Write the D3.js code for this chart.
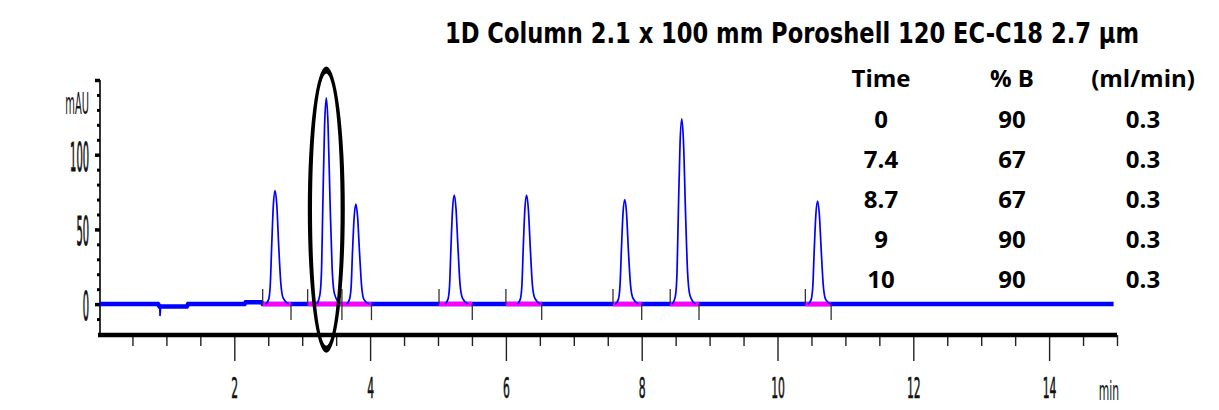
<!DOCTYPE html>
<html>
<head>
<meta charset="utf-8">
<script src="https://cdn.jsdelivr.net/npm/d3@7"></script>
<style>
  body { margin: 0; background: #fff; }
  svg { display: block; }
  .narrow { font-family: "Liberation Sans Narrow", "DejaVu Sans Condensed", "Liberation Sans", sans-serif; }
  .table { font-family: "Open Sans", "Lato", sans-serif; font-weight: 700; font-size: 24px; fill: #000; }
</style>
</head>
<body>
<div id="chart"></div>
<script>
// gradient table
const gradTime = ["0", "7.4", "8.7", "9", "10"];
const gradB = ["90", "67", "67", "90", "90"];
const gradFlow = ["0.3", "0.3", "0.3", "0.3", "0.3"];
const tableHead = ["Time", "% B", "(ml/min)"];

// axis labels
const xTickLabels = [2, 4, 6, 8, 10, 12, 14];
const yTickLabels = [0, 50, 100];

// baseline of the trace [min, mAU]
const baseline = [[0.02, 0], [0.876, 0], [0.9, -1.6], [1.3, -1.6], [1.32, 0], [2.15, 0], [2.17, 1.3],
  [2.4, 1.3], [2.42, 0], [14.95, 0]];
const dip = [[0.885, 0], [0.9, -1], [0.906, -8], [0.915, -2.5], [0.93, -1.6]];

// peaks [min, mAU]
const peak1 = [[2.46,0],[2.505,3],[2.53,13],[2.55,38],[2.575,66],[2.60,76],[2.625,67],[2.655,38],[2.685,14],[2.72,4],[2.80,0]];
const peak2 = [[3.215,0],[3.26,6],[3.285,23],[3.305,69],[3.33,120],[3.355,138],[3.38,121],[3.41,69],[3.44,25],[3.475,7],[3.555,0]];
const peak3 = [[3.65,0],[3.695,3],[3.72,11],[3.74,34],[3.765,58],[3.79,67],[3.815,59],[3.845,34],[3.875,12],[3.91,3],[3.99,0]];
const peak4 = [[5.10,0],[5.145,3],[5.17,12],[5.19,37],[5.215,64],[5.24,73],[5.265,64],[5.295,37],[5.325,13],[5.36,4],[5.44,0]];
const peak5 = [[6.165,0],[6.21,3],[6.235,12],[6.255,37],[6.28,64],[6.305,73],[6.33,64],[6.36,37],[6.39,13],[6.425,4],[6.505,0]];
const peak6 = [[7.61,0],[7.655,3],[7.68,12],[7.70,35],[7.725,61],[7.75,70],[7.775,62],[7.805,35],[7.835,13],[7.87,4],[7.95,0]];
const peak7 = [[8.45,0],[8.495,5],[8.52,21],[8.54,62],[8.565,108],[8.59,124],[8.615,109],[8.645,62],[8.675,22],[8.71,6],[8.79,0]];
const peak8 = [[10.45,0],[10.495,3],[10.52,12],[10.54,35],[10.565,60],[10.59,69],[10.615,61],[10.645,35],[10.675,12],[10.71,3],[10.79,0]];

// integration start / end (min)
const intStart = [2.418, 3.08, 3.585, 5.015, 6.0, 7.577, 8.42, 10.41];
const intEnd = [2.835, 3.585, 4.02, 5.505, 6.527, 8.0, 8.844, 10.79];

// highlighted peak (min, mAU range)
const markTime = 3.355;
const markTop = 159;
const markBottom = -32.5;

var w = 1219;
var h = 410;

var svg = d3.select("#chart").append("svg")
  .attr("width", w)
  .attr("height", h);

var x = d3.scaleLinear().domain([0, 15]).range([98.5, 1117]);
var y = d3.scaleLinear().domain([-20, 150]).range([334, 80]);

///////////////////////////// Axes

// x axis: minor ticks every 0.5, major every 2
var xAxisG = svg.append("g").attr("transform", "translate(0,335)");

var minorX = d3.range(0.5, 15.01, 0.5).filter(d => d % 2 !== 0 || d === 0);
xAxisG.append("g")
  .call(d3.axisBottom(x).tickValues(minorX).tickSize(11).tickSizeOuter(0).tickFormat(""))
  .call(g => g.select(".domain").remove())
  .call(g => g.selectAll("line").attr("stroke", "#222").attr("stroke-width", 1.4));

xAxisG.append("g")
  .call(d3.axisBottom(x).tickValues(xTickLabels).tickSize(26).tickSizeOuter(0))
  .call(g => g.select(".domain").remove())
  .call(g => g.selectAll("line").attr("stroke", "#222").attr("stroke-width", 1.4))
  .call(g => g.selectAll("text")
    .attr("class", "narrow")
    .attr("y", 0).attr("dy", 0)
    .attr("font-size", 12)
    .attr("fill", "#111")
    .attr("stroke", "#111").attr("stroke-width", 0.25)
    .attr("transform", "translate(0,63) scale(1,2.4)"));

xAxisG.append("line")
  .attr("x1", 98).attr("x2", x(15))
  .attr("stroke", "#000").attr("stroke-width", 4.5);

svg.append("text")
  .attr("class", "narrow")
  .attr("font-size", 12)
  .attr("fill", "#111")
  .attr("text-anchor", "middle")
  .attr("transform", "translate(" + (x(15) - 8) + ",400) scale(1,2.2)")
  .text("min");

// y axis
var yAxisG = svg.append("g").attr("transform", "translate(100,0)");

var minorY = d3.range(-10, 150, 10).filter(d => d % 50 !== 0);
yAxisG.append("g")
  .call(d3.axisLeft(y).tickValues(minorY).tickSize(3).tickSizeOuter(0).tickFormat(""))
  .call(g => g.select(".domain").remove())
  .call(g => g.selectAll("line").attr("stroke", "#000").attr("stroke-width", 3));

yAxisG.append("g")
  .call(d3.axisLeft(y).tickValues([0, 50, 100, 150]).tickSize(5).tickSizeOuter(0)
    .tickFormat(d => yTickLabels.includes(d) ? d : ""))
  .call(g => g.select(".domain").remove())
  .call(g => g.selectAll("line").attr("stroke", "#000").attr("stroke-width", 3.5))
  .call(g => g.selectAll("text")
    .attr("class", "narrow")
    .attr("x", 0).attr("dy", "0.4em")
    .attr("font-size", 11)
    .attr("fill", "#111")
    .attr("stroke", "#111").attr("stroke-width", 0.25)
    .attr("transform", "translate(-11,0) scale(1,3.5)"));

yAxisG.append("line")
  .attr("y1", y(150)).attr("y2", y(-20) + 1)
  .attr("stroke", "#000").attr("stroke-width", 1.6);

svg.append("text")
  .attr("class", "narrow")
  .attr("font-size", 11)
  .attr("fill", "#111")
  .attr("text-anchor", "end")
  .attr("transform", "translate(89," + y(135) + ") scale(1,2.8)")
  .attr("dy", "0.36em")
  .text("mAU");

///////////////////////////// Trace

var line = d3.line()
  .x(d => x(d[0]))
  .y(d => y(d[1]));

svg.append("path")
  .datum(baseline)
  .attr("fill", "none")
  .attr("stroke", "#0000ff")
  .attr("stroke-width", 4.5)
  .attr("d", line);

svg.append("path")
  .datum(dip)
  .attr("fill", "none")
  .attr("stroke", "#0000ff")
  .attr("stroke-width", 1.6)
  .attr("d", line);

// integration baselines
svg.selectAll(".intbar")
  .data(intStart)
  .enter().append("line")
  .attr("class", "intbar")
  .attr("x1", d => x(d))
  .attr("x2", (d, i) => x(intEnd[i]))
  .attr("y1", y(0)).attr("y2", y(0))
  .attr("stroke", "#ff00ff")
  .attr("stroke-width", 4.5);

var peakLine = d3.line()
  .curve(d3.curveMonotoneX)
  .x(d => x(d[0]))
  .y(d => y(d[1]));

[peak1, peak2, peak3, peak4, peak5, peak6, peak7, peak8].forEach(function (p) {
  svg.append("path")
    .datum(p)
    .attr("fill", "none")
    .attr("stroke", "#0000ff")
    .attr("stroke-width", 1.7)
    .attr("stroke-linejoin", "round")
    .attr("d", peakLine);
});

// integration event marks
svg.selectAll(".tstart")
  .data(intStart)
  .enter().append("line")
  .attr("x1", d => x(d)).attr("x2", d => x(d))
  .attr("y1", y(0) - 15).attr("y2", y(0))
  .attr("stroke", "#333").attr("stroke-width", 1.3);

svg.selectAll(".tend")
  .data(intEnd)
  .enter().append("line")
  .attr("x1", d => x(d)).attr("x2", d => x(d))
  .attr("y1", y(0)).attr("y2", y(0) + 16)
  .attr("stroke", "#333").attr("stroke-width", 1.3);

///////////////////////////// Highlight ellipse

var cx = x(markTime);
var cy = (y(markTop) + y(markBottom)) / 2;
var ry = (y(markBottom) - y(markTop)) / 2;
var rx = 18.5;

function ellipsePath(rx, ry) {
  return "M" + (cx - rx) + "," + cy +
    "A" + rx + "," + ry + " 0 1,0 " + (cx + rx) + "," + cy +
    "A" + rx + "," + ry + " 0 1,0 " + (cx - rx) + "," + cy + "Z";
}

svg.append("path")
  .attr("d", ellipsePath(rx, ry) + ellipsePath(rx - 4.2, ry - 7))
  .attr("fill", "#000")
  .attr("fill-rule", "evenodd");

///////////////////////////// Title and gradient table

svg.append("text")
  .attr("class", "narrow")
  .attr("x", 445)
  .attr("y", 43)
  .attr("font-size", 29)
  .attr("font-weight", 700)
  .attr("textLength", 694)
  .attr("lengthAdjust", "spacingAndGlyphs")
  .text("1D Column 2.1 x 100 mm Poroshell 120 EC-C18 2.7 µm");

var colX = [881, 1012, 1143];
var table = svg.append("g").attr("class", "table");

tableHead.forEach(function (t, i) {
  table.append("text")
    .attr("x", colX[i]).attr("y", 87)
    .attr("text-anchor", "middle")
    .text(t);
});

[gradTime, gradB, gradFlow].forEach(function (col, i) {
  col.forEach(function (v, j) {
    table.append("text")
      .attr("x", colX[i]).attr("y", 128 + j * 40)
      .attr("text-anchor", "middle")
      .text(v);
  });
});
</script>
</body>
</html>
